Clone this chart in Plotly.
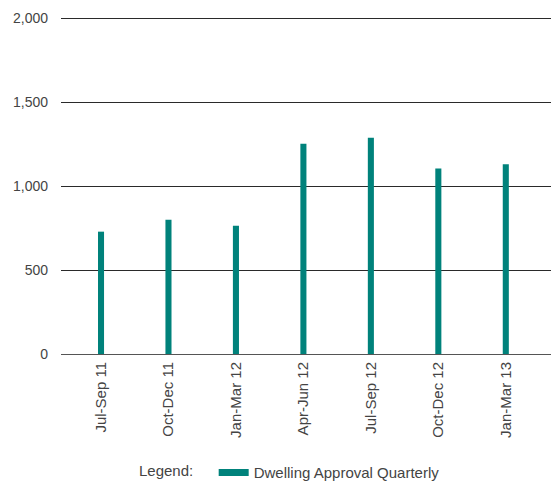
import plotly.graph_objects as go

categories = ["Jul-Sep 11", "Oct-Dec 11", "Jan-Mar 12", "Apr-Jun 12",
              "Jul-Sep 12", "Oct-Dec 12", "Jan-Mar 13"]
approvals = [729, 800, 764, 1253, 1288, 1106, 1130]
y_ticks = [0, 500, 1000, 1500, 2000]
y_labels = ["0", "500", "1,000", "1,500", "2,000"]
series_name = "Dwelling Approval Quarterly"

teal = "#00827b"
font = dict(family="Liberation Sans, Arial, sans-serif", size=14, color="#444444")
font15 = dict(family="Liberation Sans, Arial, sans-serif", size=15, color="#444444")

fig = go.Figure()
fig.add_trace(go.Bar(x=categories, y=approvals, marker=dict(color=teal, line=dict(width=0)),
                     width=0.09, showlegend=False, name=series_name))
# legend entry drawn as a wide swatch
fig.add_trace(go.Scatter(x=[None], y=[None], mode="lines", name=series_name,
                         line=dict(color=teal, width=7)))

fig.update_layout(
    width=553, height=491,
    margin=dict(l=61, r=2, t=15, b=133),
    paper_bgcolor="white", plot_bgcolor="white",
    font=font,
    showlegend=True,
    legend=dict(orientation="h", x=0.155, xanchor="left", y=-0.35, yanchor="middle",
                title=dict(text="Legend:   ", side="left", font=font15),
                font=font15, itemwidth=30),
    xaxis=dict(range=[-0.593, 6.67], tickangle=-90, showgrid=False, showline=False,
               zeroline=False, ticks="", tickfont=font15, ticklabelstandoff=4,
               automargin=False),
    yaxis=dict(range=[0, 2020], tickvals=y_ticks, ticktext=y_labels, showgrid=True,
               gridcolor="#2a2a2a", gridwidth=1, zeroline=True, zerolinecolor="#555555",
               zerolinewidth=1, showline=False, ticks="", tickfont=font,
               ticklabelstandoff=12, automargin=False),
)

fig.write_html("out.html", config={"displayModeBar": False},
               post_script="document.body.style.margin='0';document.body.style.overflow='hidden';")
